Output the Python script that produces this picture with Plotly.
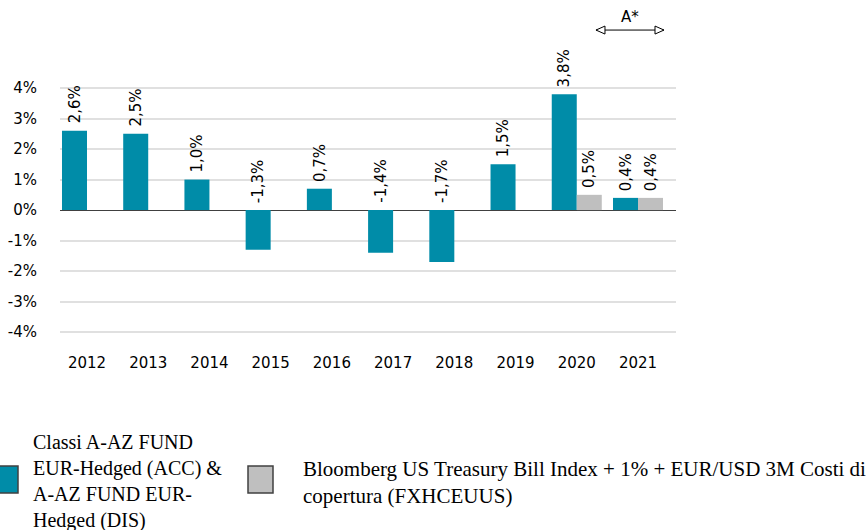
import plotly.graph_objects as go

years = ["2012", "2013", "2014", "2015", "2016", "2017", "2018", "2019", "2020", "2021"]
fund = [2.6, 2.5, 1.0, -1.3, 0.7, -1.4, -1.7, 1.5, 3.8, 0.4]
bench = [None, None, None, None, None, None, None, None, 0.5, 0.4]
fund_labels = ["2,6%", "2,5%", "1,0%", "-1,3%", "0,7%", "-1,4%", "-1,7%", "1,5%", "3,8%", "0,4%"]
bench_labels = [None, None, None, None, None, None, None, None, "0,5%", "0,4%"]
ytick_vals = [-4, -3, -2, -1, 0, 1, 2, 3, 4]
ytick_text = ["-4%", "-3%", "-2%", "-1%", "0%", "1%", "2%", "3%", "4%"]
fund_name = "Classi A-AZ FUND<br>EUR-Hedged (ACC) &<br>A-AZ FUND EUR-<br>Hedged (DIS)"
bench_name = "Bloomberg US Treasury Bill Index + 1% + EUR/USD 3M Costi di<br>copertura (FXHCEUUS)"

TEAL = "#008CA8"
GREY = "#BFBFBF"
SANS = "DejaVu Sans"
SERIF = "Liberation Serif"

fig = go.Figure()
fig.add_trace(go.Bar(x=years, y=fund, name=fund_name, marker=dict(color=TEAL, line=dict(width=0)),
                     showlegend=False))
fig.add_trace(go.Bar(x=years, y=bench, name=bench_name, marker=dict(color=GREY, line=dict(width=0)),
                     showlegend=False))

annotations = []
for i, (v, t) in enumerate(zip(fund, fund_labels)):
    annotations.append(dict(x=i, y=max(v, 0), xref="x", yref="y", text=t, textangle=-90, showarrow=False,
                            xanchor="center", yanchor="bottom", xshift=-12.5, yshift=5,
                            font=dict(family=SANS, size=15, color="#000000")))
for i, (v, t) in enumerate(zip(bench, bench_labels)):
    if v is None:
        continue
    annotations.append(dict(x=i, y=max(v, 0), xref="x", yref="y", text=t, textangle=-90, showarrow=False,
                            xanchor="center", yanchor="bottom", xshift=12.5, yshift=5,
                            font=dict(family=SANS, size=15, color="#000000")))

# A* label over the arrow
annotations.append(dict(x=8.87, y=6.33, xref="x", yref="y", text="A*", showarrow=False,
                        font=dict(family=SANS, size=15, color="#000000"),
                        xanchor="center", yanchor="middle"))

L, R, T, B = 60, 190, 0, 182
PW, PH = 866 - L - R, 530 - T - B

def px_to_paper(px, py):
    return (px - L) / PW, ((530 - py) - B) / PH

# custom legend texts
for px, py, txt, sz in [(31, 481, fund_name, 20), (301, 482, bench_name, 21)]:
    pxx, pyy = px_to_paper(px, py)
    annotations.append(dict(x=pxx, y=pyy, xref="paper", yref="paper", text=txt,
                            showarrow=False, align="left", xanchor="left", yanchor="middle",
                            font=dict(family=SERIF, size=sz, color="#000000")))

shapes = []
# legend swatches
for (x0, x1), col in [((-5, 18), TEAL), ((248, 273), GREY)]:
    p0 = px_to_paper(x0, 493)
    p1 = px_to_paper(x1, 466)
    shapes.append(dict(type="rect", xref="paper", yref="paper", x0=p0[0], y0=p0[1], x1=p1[0], y1=p1[1],
                       fillcolor=col, line=dict(color="#404040", width=1.5)))

# double arrow
ax0, ax1, ay = 8.314, 9.425, 5.9
shapes.append(dict(type="line", xref="x", yref="y", x0=ax0, x1=ax1, y0=ay, y1=ay,
                   line=dict(color="#000000", width=1)))
shapes.append(dict(type="path", xref="x", yref="y", xsizemode="pixel", ysizemode="pixel",
                   xanchor=ax0, yanchor=ay, path="M0,0 L9,4 L9,-4 Z",
                   fillcolor="#FFFFFF", line=dict(color="#000000", width=1)))
shapes.append(dict(type="path", xref="x", yref="y", xsizemode="pixel", ysizemode="pixel",
                   xanchor=ax1, yanchor=ay, path="M0,0 L-9,4 L-9,-4 Z",
                   fillcolor="#FFFFFF", line=dict(color="#000000", width=1)))

fig.update_layout(
    width=866, height=530,
    margin=dict(l=L, r=R, t=T, b=B, pad=0),
    paper_bgcolor="#FFFFFF", plot_bgcolor="#FFFFFF",
    barmode="group", bargap=0.183, bargroupgap=0,
    annotations=annotations, shapes=shapes,
    font=dict(family=SANS, size=15, color="#000000"),
    showlegend=False,
)
fig.update_xaxes(type="category", range=[-0.441, 9.621], showgrid=False, showline=False,
                 ticks="", ticklabelstandoff=4,
                 tickfont=dict(family=SANS, size=15, color="#000000"), fixedrange=True)
fig.update_yaxes(range=[-4.52, 6.885], tickvals=ytick_vals, ticktext=ytick_text,
                 showgrid=True, gridcolor="#E0E0E0", gridwidth=1.5,
                 zeroline=True, zerolinecolor="#404040", zerolinewidth=1.3,
                 showline=False, ticks="", ticklabelstandoff=22,
                 tickfont=dict(family=SANS, size=15, color="#000000"), fixedrange=True)

fig.write_html("out.html", config={"displayModeBar": False},
               post_script="document.body.style.margin='0';document.body.style.overflow='hidden';")
